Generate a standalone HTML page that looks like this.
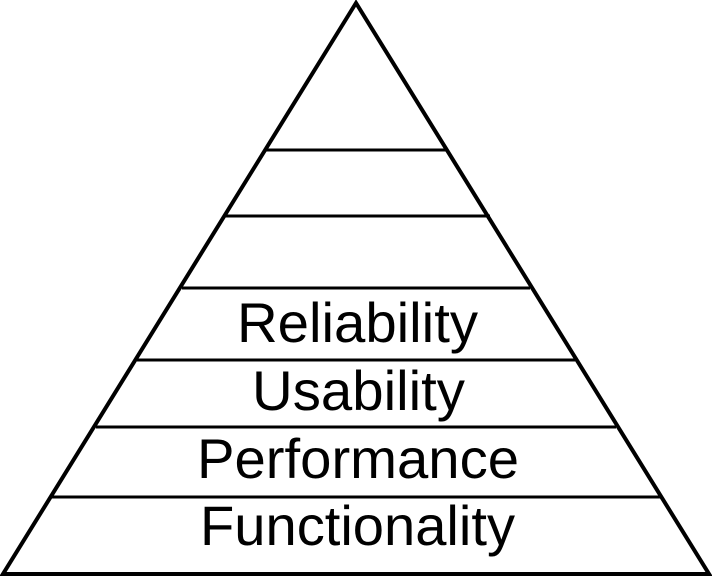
<!DOCTYPE html>
<html><head><meta charset="utf-8"><style>
html,body{margin:0;padding:0;background:#fff;}
svg{display:block;}
text{font-family:"Liberation Sans",Arial,sans-serif;fill:#000;}
</style></head><body>
<svg width="712" height="577" viewBox="0 0 712 577" xmlns="http://www.w3.org/2000/svg">
<polygon points="356,3 3,574 709,574" fill="#fff" stroke="#000" stroke-width="4" stroke-linejoin="miter"/>
<g stroke="#000" stroke-width="3">
<line x1="266" y1="150" x2="446" y2="150"/>
<line x1="225" y1="216" x2="490" y2="216"/>
<line x1="182" y1="288" x2="530" y2="288"/>
<line x1="137" y1="360" x2="575" y2="360"/>
<line x1="96" y1="427" x2="616" y2="427"/>
<line x1="52" y1="497" x2="660" y2="497"/>
</g>
<text x="237" y="342" font-size="56" textLength="241" lengthAdjust="spacingAndGlyphs">Reliability</text>
<text x="252" y="410" font-size="56" textLength="213" lengthAdjust="spacingAndGlyphs">Usability</text>
<text x="197" y="478" font-size="56" textLength="322" lengthAdjust="spacingAndGlyphs">Performance</text>
<text x="200" y="545" font-size="56" textLength="315" lengthAdjust="spacingAndGlyphs">Functionality</text>
</svg>
</body></html>
